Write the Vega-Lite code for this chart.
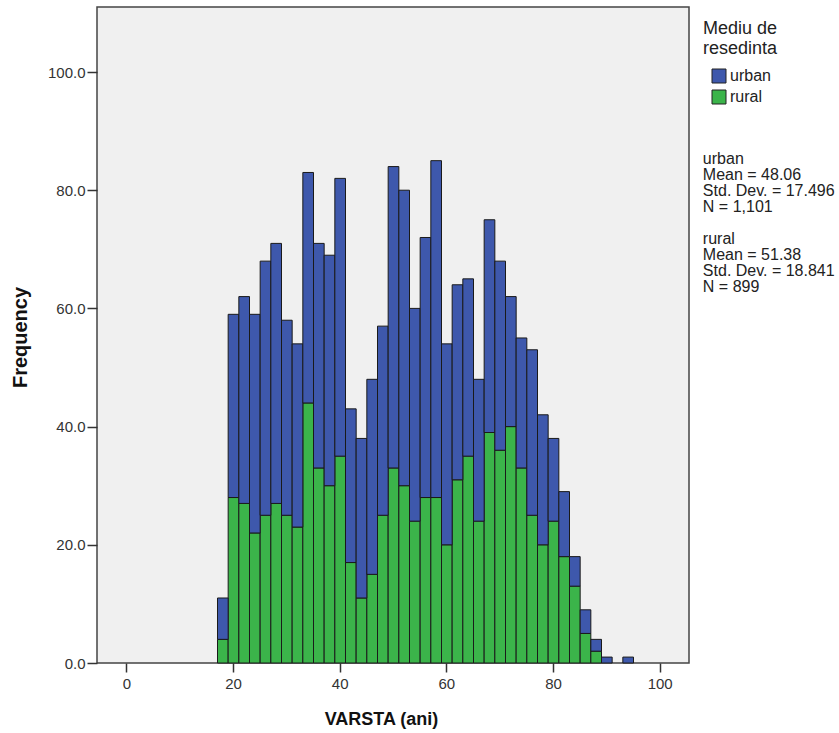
{
  "$schema": "https://vega.github.io/schema/vega-lite/v6.json",
  "autosize": "none",
  "width": 592,
  "height": 656,
  "padding": {"left": 97, "top": 7, "right": 150, "bottom": 70},
  "background": "white",
  "config": {
    "font": "Liberation Sans",
    "view": {"fill": "#F0F0F0", "stroke": "#444444", "strokeWidth": 1.5},
    "axis": {
      "grid": false,
      "domain": false,
      "tickColor": "#333333",
      "tickWidth": 1.5,
      "tickSize": 9,
      "labelFont": "Liberation Sans",
      "labelFontSize": 15,
      "labelColor": "#333333",
      "titleFont": "Liberation Sans",
      "titleFontWeight": "bold",
      "titleColor": "#111111"
    }
  },
  "layer": [
    {
      "data": {
        "values": [
          {"start": 17, "end": 19, "group": "rural", "count": 4},
          {"start": 19, "end": 21, "group": "rural", "count": 28},
          {"start": 21, "end": 23, "group": "rural", "count": 27},
          {"start": 23, "end": 25, "group": "rural", "count": 22},
          {"start": 25, "end": 27, "group": "rural", "count": 25},
          {"start": 27, "end": 29, "group": "rural", "count": 27},
          {"start": 29, "end": 31, "group": "rural", "count": 25},
          {"start": 31, "end": 33, "group": "rural", "count": 23},
          {"start": 33, "end": 35, "group": "rural", "count": 44},
          {"start": 35, "end": 37, "group": "rural", "count": 33},
          {"start": 37, "end": 39, "group": "rural", "count": 30},
          {"start": 39, "end": 41, "group": "rural", "count": 35},
          {"start": 41, "end": 43, "group": "rural", "count": 17},
          {"start": 43, "end": 45, "group": "rural", "count": 11},
          {"start": 45, "end": 47, "group": "rural", "count": 15},
          {"start": 47, "end": 49, "group": "rural", "count": 25},
          {"start": 49, "end": 51, "group": "rural", "count": 33},
          {"start": 51, "end": 53, "group": "rural", "count": 30},
          {"start": 53, "end": 55, "group": "rural", "count": 24},
          {"start": 55, "end": 57, "group": "rural", "count": 28},
          {"start": 57, "end": 59, "group": "rural", "count": 28},
          {"start": 59, "end": 61, "group": "rural", "count": 20},
          {"start": 61, "end": 63, "group": "rural", "count": 31},
          {"start": 63, "end": 65, "group": "rural", "count": 35},
          {"start": 65, "end": 67, "group": "rural", "count": 24},
          {"start": 67, "end": 69, "group": "rural", "count": 39},
          {"start": 69, "end": 71, "group": "rural", "count": 36},
          {"start": 71, "end": 73, "group": "rural", "count": 40},
          {"start": 73, "end": 75, "group": "rural", "count": 33},
          {"start": 75, "end": 77, "group": "rural", "count": 25},
          {"start": 77, "end": 79, "group": "rural", "count": 20},
          {"start": 79, "end": 81, "group": "rural", "count": 24},
          {"start": 81, "end": 83, "group": "rural", "count": 18},
          {"start": 83, "end": 85, "group": "rural", "count": 13},
          {"start": 85, "end": 87, "group": "rural", "count": 5},
          {"start": 87, "end": 89, "group": "rural", "count": 2},
          {"start": 17, "end": 19, "group": "urban", "count": 7},
          {"start": 19, "end": 21, "group": "urban", "count": 31},
          {"start": 21, "end": 23, "group": "urban", "count": 35},
          {"start": 23, "end": 25, "group": "urban", "count": 37},
          {"start": 25, "end": 27, "group": "urban", "count": 43},
          {"start": 27, "end": 29, "group": "urban", "count": 44},
          {"start": 29, "end": 31, "group": "urban", "count": 33},
          {"start": 31, "end": 33, "group": "urban", "count": 31},
          {"start": 33, "end": 35, "group": "urban", "count": 39},
          {"start": 35, "end": 37, "group": "urban", "count": 38},
          {"start": 37, "end": 39, "group": "urban", "count": 39},
          {"start": 39, "end": 41, "group": "urban", "count": 47},
          {"start": 41, "end": 43, "group": "urban", "count": 26},
          {"start": 43, "end": 45, "group": "urban", "count": 27},
          {"start": 45, "end": 47, "group": "urban", "count": 33},
          {"start": 47, "end": 49, "group": "urban", "count": 32},
          {"start": 49, "end": 51, "group": "urban", "count": 51},
          {"start": 51, "end": 53, "group": "urban", "count": 50},
          {"start": 53, "end": 55, "group": "urban", "count": 36},
          {"start": 55, "end": 57, "group": "urban", "count": 44},
          {"start": 57, "end": 59, "group": "urban", "count": 57},
          {"start": 59, "end": 61, "group": "urban", "count": 34},
          {"start": 61, "end": 63, "group": "urban", "count": 33},
          {"start": 63, "end": 65, "group": "urban", "count": 30},
          {"start": 65, "end": 67, "group": "urban", "count": 24},
          {"start": 67, "end": 69, "group": "urban", "count": 36},
          {"start": 69, "end": 71, "group": "urban", "count": 32},
          {"start": 71, "end": 73, "group": "urban", "count": 22},
          {"start": 73, "end": 75, "group": "urban", "count": 22},
          {"start": 75, "end": 77, "group": "urban", "count": 28},
          {"start": 77, "end": 79, "group": "urban", "count": 22},
          {"start": 79, "end": 81, "group": "urban", "count": 14},
          {"start": 81, "end": 83, "group": "urban", "count": 11},
          {"start": 83, "end": 85, "group": "urban", "count": 5},
          {"start": 85, "end": 87, "group": "urban", "count": 4},
          {"start": 87, "end": 89, "group": "urban", "count": 2},
          {"start": 89, "end": 91, "group": "urban", "count": 1},
          {"start": 93, "end": 95, "group": "urban", "count": 1}
        ]
      },
      "mark": {"type": "bar", "binSpacing": 0, "stroke": "#1a1a1a", "strokeWidth": 1},
      "encoding": {
        "x": {
          "field": "start",
          "type": "quantitative",
          "bin": {"binned": true, "step": 2},
          "scale": {"domain": [-5.5, 105.5], "nice": false, "zero": false},
          "axis": {
            "values": [0, 20, 40, 60, 80, 100],
            "title": "VARSTA (ani)",
            "labelPadding": 4,
            "titleFontSize": 18,
            "titleX": 284,
            "titleY": 47,
            "titleBaseline": "top",
            "titleAlign": "center"
          }
        },
        "x2": {"field": "end"},
        "y": {
          "field": "count",
          "type": "quantitative",
          "stack": "zero",
          "scale": {"domain": [0, 111], "nice": false},
          "axis": {
            "values": [0, 20, 40, 60, 80, 100],
            "format": ".1f",
            "title": "Frequency",
            "tickSize": 10,
            "labelPadding": 2,
            "titleFontSize": 20,
            "titleAngle": -90,
            "titleX": -71,
            "titleY": 330,
            "titleBaseline": "alphabetic",
            "titleAlign": "center"
          }
        },
        "color": {
          "field": "group",
          "type": "nominal",
          "scale": {"domain": ["urban", "rural"], "range": ["#3E58AC", "#3BB44A"]},
          "legend": {
            "title": ["Mediu de", "resedinta"],
            "orient": "none",
            "legendX": 606,
            "legendY": 13,
            "direction": "vertical",
            "titleFontSize": 18,
            "titleFontWeight": "normal",
            "titleLineHeight": 20,
            "titleColor": "#222222",
            "titlePadding": 10,
            "labelFontSize": 16,
            "labelColor": "#222222",
            "labelOffset": 3,
            "symbolType": "square",
            "symbolSize": 196,
            "symbolStrokeColor": "#222222",
            "symbolStrokeWidth": 1,
            "symbolOpacity": 1,
            "symbolOffset": 8,
            "rowPadding": 3
          }
        },
        "order": {"field": "group", "sort": "ascending"}
      }
    },
    {
      "data": {
        "values": [
          {"group": "urban", "stats": "urban\nMean = 48.06\nStd. Dev. = 17.496\nN = 1,101"}
        ]
      },
      "mark": {
        "type": "text",
        "align": "left",
        "baseline": "top",
        "lineBreak": "\n",
        "lineHeight": 16,
        "fontSize": 16,
        "color": "#222222",
        "font": "Liberation Sans"
      },
      "encoding": {
        "x": {"datum": 108.1},
        "y": {"datum": 86.6},
        "text": {"field": "stats", "type": "nominal"}
      }
    },
    {
      "data": {
        "values": [
          {"group": "rural", "stats": "rural\nMean = 51.38\nStd. Dev. = 18.841\nN = 899"}
        ]
      },
      "mark": {
        "type": "text",
        "align": "left",
        "baseline": "top",
        "lineBreak": "\n",
        "lineHeight": 16,
        "fontSize": 16,
        "color": "#222222",
        "font": "Liberation Sans"
      },
      "encoding": {
        "x": {"datum": 108.1},
        "y": {"datum": 73.1},
        "text": {"field": "stats", "type": "nominal"}
      }
    }
  ]
}
